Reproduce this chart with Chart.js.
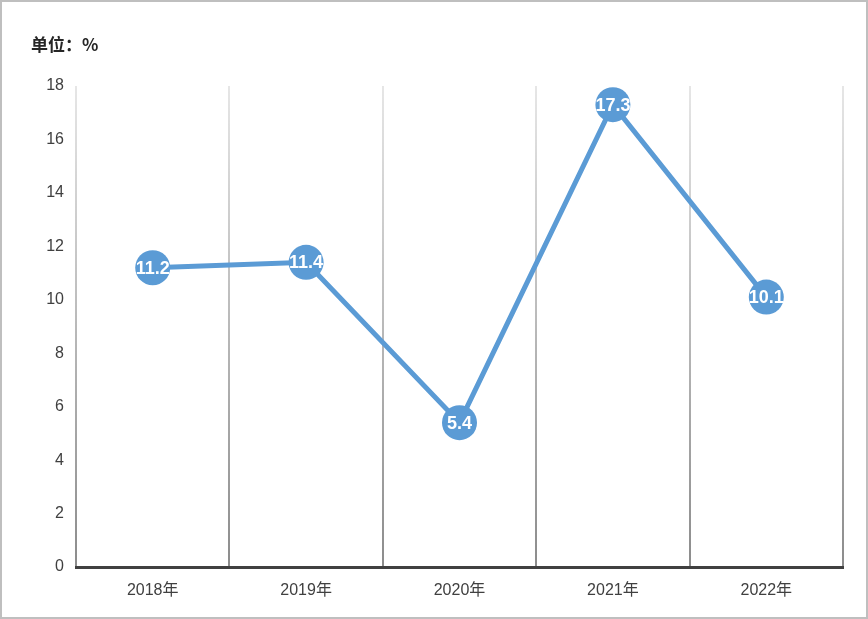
<!DOCTYPE html>
<html>
<head>
<meta charset="utf-8">
<script src="https://cdn.jsdelivr.net/npm/chart.js@4"></script>
<style>
  html, body { margin: 0; padding: 0; background: #fff; }
  #wrap { position: relative; width: 868px; height: 619px; }
  #frame { position: absolute; left: 0; top: 0; right: 0; bottom: 0; border: 2px solid #bfbfbf; pointer-events: none; }
</style>
</head>
<body>
<div id="wrap">
  <canvas id="rateChart" width="868" height="619"></canvas>
  <div id="frame"></div>
</div>
<script>
const years = ['2018年', '2019年', '2020年', '2021年', '2022年'];
const rates = [11.2, 11.4, 5.4, 17.3, 10.1];
const unitLabel = '单位：%';

document.addEventListener('DOMContentLoaded', function () {
  const ctx = document.getElementById('rateChart').getContext('2d');

  // white value text inside every point
  const valueLabels = {
    id: 'valueLabels',
    afterDatasetsDraw(chart) {
      const c = chart.ctx;
      const meta = chart.getDatasetMeta(0);
      c.save();
      c.fillStyle = '#ffffff';
      c.font = 'bold 18px "Liberation Sans", "Noto Sans", sans-serif';
      c.textAlign = 'center';
      c.textBaseline = 'middle';
      meta.data.forEach((pt, i) => {
        c.fillText(rates[i].toFixed(1), pt.x, pt.y + 1);
      });
      c.restore();
    }
  };

  // unit text in the top-left corner
  const unitTitle = {
    id: 'unitTitle',
    afterDraw(chart) {
      const c = chart.ctx;
      c.save();
      c.fillStyle = '#262626';
      c.font = 'bold 17px "Noto Sans CJK SC", sans-serif';
      c.textAlign = 'left';
      c.textBaseline = 'middle';
      c.fillText(unitLabel, 31, 45);
      c.restore();
    }
  };

  function gridGradient(context) {
    const area = context.chart.chartArea;
    if (!area) return '#bfbfbf';
    const g = context.chart.ctx.createLinearGradient(0, area.top, 0, area.bottom);
    g.addColorStop(0, '#e6e6e6');
    g.addColorStop(1, '#8c8c8c');
    return g;
  }

  new Chart(ctx, {
    type: 'line',
    data: {
      labels: years,
      datasets: [{
        data: rates,
        borderColor: '#5b9bd5',
        backgroundColor: '#5b9bd5',
        borderWidth: 5,
        pointRadius: 17.5,
        pointHoverRadius: 17.5,
        pointBorderWidth: 0,
        tension: 0
      }]
    },
    options: {
      responsive: false,
      animation: false,
      layout: { padding: { top: 86, right: 25, bottom: 0, left: 0 } },
      plugins: {
        legend: { display: false },
        tooltip: { enabled: false }
      },
      scales: {
        x: {
          offset: true,
          grid: { offset: true, color: gridGradient, lineWidth: 2, drawTicks: false },
          border: { color: '#404040', width: 3 },
          ticks: {
            color: '#404040',
            padding: 14,
            font: { size: 16, family: '"Liberation Sans", "Noto Sans CJK SC", sans-serif' }
          },
          afterFit(scale) { scale.height = 52; }
        },
        y: {
          min: 0,
          max: 18,
          ticks: {
            stepSize: 2,
            color: '#404040',
            padding: 4,
            font: { size: 16, family: '"Liberation Sans", "Noto Sans", sans-serif' }
          },
          grid: { display: false },
          border: { display: false },
          afterFit(scale) { scale.width = 76; }
        }
      }
    },
    plugins: [valueLabels, unitTitle]
  });
});
</script>
</body>
</html>
